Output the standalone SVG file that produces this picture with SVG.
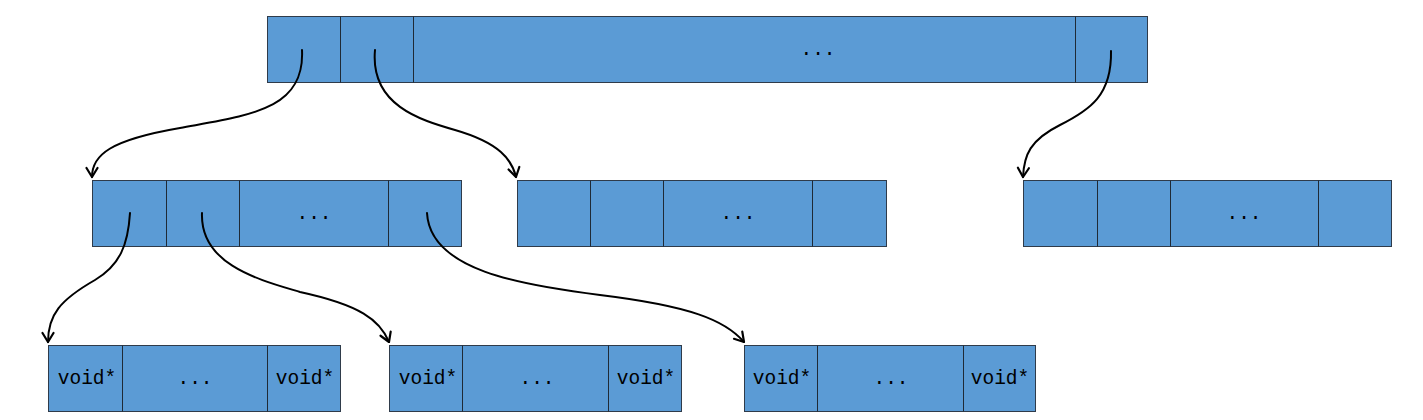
<svg xmlns="http://www.w3.org/2000/svg" width="1423" height="420" viewBox="0 0 1423 420">
<defs>
<style>
.box{fill:#5b9bd5;stroke:#2f3b4a;stroke-width:1}
.div{stroke:#1f2a36;stroke-width:1}
.t{font-family:"Liberation Mono","DejaVu Sans Mono",monospace;font-size:19.5px;fill:#000;text-anchor:middle;dominant-baseline:central}
.c{fill:none;stroke:#000;stroke-width:2;stroke-linecap:round}
</style>
<marker id="ah" viewBox="0 0 14 14" refX="12" refY="7" markerWidth="14" markerHeight="14" markerUnits="userSpaceOnUse" orient="auto">
<path d="M3,1.5 L12,7 L3,12.5" fill="none" stroke="#000" stroke-width="2.2" stroke-linecap="round" stroke-linejoin="round"/>
</marker>
</defs>
<rect width="1423" height="420" fill="#fff"/>
<g id="root">
<rect class="box" x="267.5" y="16.5" width="880" height="66"/>
<line class="div" x1="340.5" y1="16.5" x2="340.5" y2="82.5"/>
<line class="div" x1="413.5" y1="16.5" x2="413.5" y2="82.5"/>
<line class="div" x1="1075.5" y1="16.5" x2="1075.5" y2="82.5"/>
<text class="t" x="818" y="50">...</text>
</g>
<g id="mid1">
<rect class="box" x="92.5" y="180.5" width="369" height="66"/>
<line class="div" x1="166.5" y1="180.5" x2="166.5" y2="246.5"/>
<line class="div" x1="239.5" y1="180.5" x2="239.5" y2="246.5"/>
<line class="div" x1="388.5" y1="180.5" x2="388.5" y2="246.5"/>
<text class="t" x="314" y="214">...</text>
</g>
<g id="mid2">
<rect class="box" x="517.5" y="180.5" width="369" height="66"/>
<line class="div" x1="590.5" y1="180.5" x2="590.5" y2="246.5"/>
<line class="div" x1="663.5" y1="180.5" x2="663.5" y2="246.5"/>
<line class="div" x1="812.5" y1="180.5" x2="812.5" y2="246.5"/>
<text class="t" x="738" y="214">...</text>
</g>
<g id="mid3">
<rect class="box" x="1023.5" y="180.5" width="368" height="66"/>
<line class="div" x1="1097.5" y1="180.5" x2="1097.5" y2="246.5"/>
<line class="div" x1="1170.5" y1="180.5" x2="1170.5" y2="246.5"/>
<line class="div" x1="1318.5" y1="180.5" x2="1318.5" y2="246.5"/>
<text class="t" x="1244" y="214">...</text>
</g>
<g id="leaf1">
<rect class="box" x="48.5" y="345.5" width="292" height="66"/>
<line class="div" x1="122.5" y1="345.5" x2="122.5" y2="411.5"/>
<line class="div" x1="267.5" y1="345.5" x2="267.5" y2="411.5"/>
<text class="t" x="87" y="379">void*</text>
<text class="t" x="195" y="379">...</text>
<text class="t" x="305" y="379">void*</text>
</g>
<g id="leaf2">
<rect class="box" x="389.5" y="345.5" width="292" height="66"/>
<line class="div" x1="462.5" y1="345.5" x2="462.5" y2="411.5"/>
<line class="div" x1="608.5" y1="345.5" x2="608.5" y2="411.5"/>
<text class="t" x="428" y="379">void*</text>
<text class="t" x="537" y="379">...</text>
<text class="t" x="646" y="379">void*</text>
</g>
<g id="leaf3">
<rect class="box" x="744.5" y="345.5" width="291" height="66"/>
<line class="div" x1="817.5" y1="345.5" x2="817.5" y2="411.5"/>
<line class="div" x1="963.5" y1="345.5" x2="963.5" y2="411.5"/>
<text class="t" x="782" y="379">void*</text>
<text class="t" x="891" y="379">...</text>
<text class="t" x="1000" y="379">void*</text>
</g>
<g id="connectors">
<path class="c" marker-end="url(#ah)" d="M302,50 C305,110 250,115 180,128 C110,140 92,155 92,177"/>
<path class="c" marker-end="url(#ah)" d="M375,50 C370,105 420,120 455,130 C500,143 512,160 516,177"/>
<path class="c" marker-end="url(#ah)" d="M1111,51 C1112,95 1090,110 1060,125 C1030,140 1024,155 1023,177"/>
<path class="c" marker-end="url(#ah)" d="M130,213 C128,245 120,265 95,280 C60,300 48,315 48,342"/>
<path class="c" marker-end="url(#ah)" d="M202,213 C200,265 260,280 300,292 C360,305 380,320 389,342"/>
<path class="c" marker-end="url(#ah)" d="M427,213 C430,270 520,285 600,295 C690,306 725,320 744,342"/>
</g>
</svg>
